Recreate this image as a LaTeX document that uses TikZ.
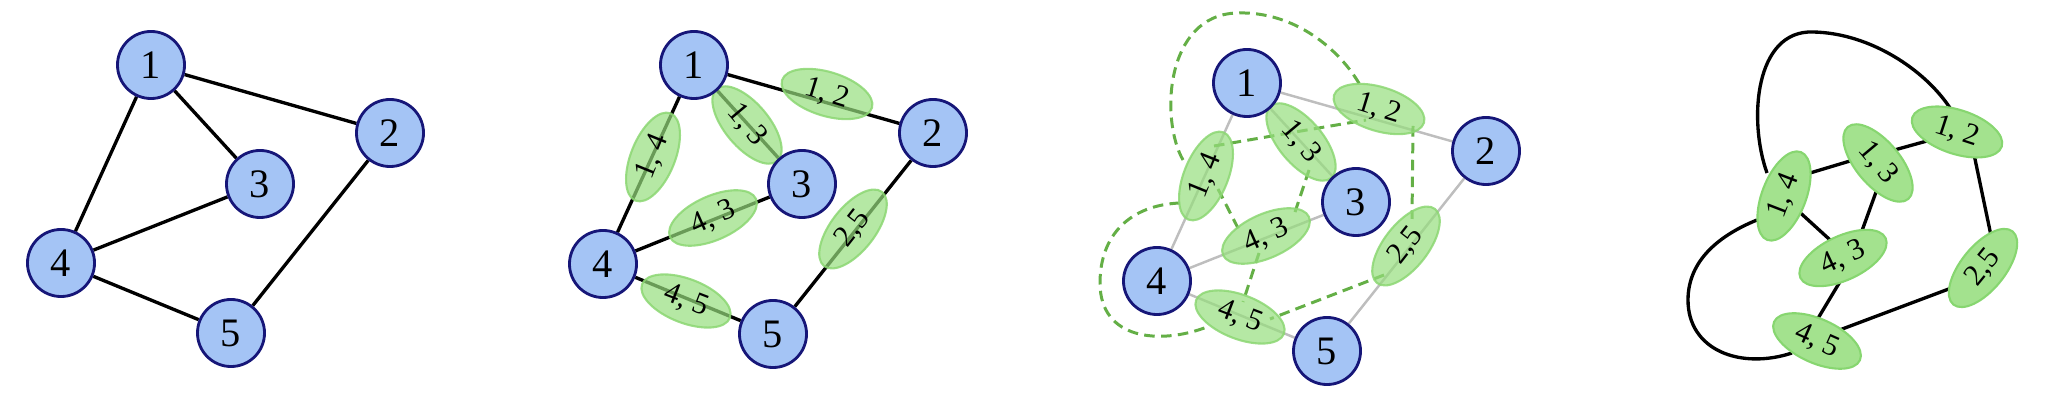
\documentclass[tikz,border=0pt]{standalone}
\usepackage{fontspec}
\setmainfont{Liberation Serif}
\usetikzlibrary{shapes.geometric}
\definecolor{nodeblue}{RGB}{164,196,245}
\definecolor{navy}{RGB}{22,22,120}
\definecolor{efill}{RGB}{150,222,125}
\definecolor{eborder}{RGB}{140,215,115}
\definecolor{efillsolid}{RGB}{163,226,142}
\definecolor{ebordersolid}{RGB}{135,214,112}
\definecolor{dgreen}{RGB}{100,175,70}
\definecolor{edgegray}{RGB}{190,190,190}
\pgfdeclarelayer{back}
\pgfdeclarelayer{mid}
\pgfsetlayers{back,mid,main}
\begin{document}
\begin{tikzpicture}[x=0.01cm,y=-0.01cm,
  vtx/.style={circle,draw=navy,fill=nodeblue,line width=0.8pt,minimum size=0.67cm,inner sep=0pt,font=\fontsize{11.5}{13}\selectfont},
  lg/.style={ellipse,line width=0.6pt,minimum width=0.94cm,minimum height=0.44cm,inner sep=0pt,font=\fontsize{8.6}{10}\selectfont},
  lgt/.style={lg,draw=eborder,fill=efill,fill opacity=0.7,draw opacity=0.85,text opacity=1},
  lgs/.style={lg,draw=ebordersolid,fill=efillsolid},
  edge/.style={line width=0.95pt,black},
  gedge/.style={line width=0.7pt,edgegray},
  dedge/.style={line width=0.85pt,dgreen,dash pattern=on 3pt off 1.8pt},
]
\useasboundingbox (0,0) rectangle (2048,401);

% ---------- Panel 1 ----------
\node[vtx] (a1) at (151,65) {1};
\node[vtx] (a2) at (390,133) {2};
\node[vtx] (a3) at (260,184) {3};
\node[vtx] (a4) at (61,263) {4};
\node[vtx] (a5) at (231,333) {5};
\begin{pgfonlayer}{back}
\draw[edge] (a1) -- (a2);
\draw[edge] (a1) -- (a3);
\draw[edge] (a1) -- (a4);
\draw[edge] (a4) -- (a3);
\draw[edge] (a2) -- (a5);
\draw[edge] (a4) -- (a5);
\end{pgfonlayer}

% ---------- Panel 2 ----------
\node[vtx] (b1) at (694,65) {1};
\node[vtx] (b2) at (933,133) {2};
\node[vtx] (b3) at (802,184) {3};
\node[vtx] (b4) at (603,264) {4};
\node[vtx] (b5) at (773,334) {5};
\begin{pgfonlayer}{mid}
\node[lgt,rotate=-17] (e12) at (827,94) {1, 2};
\node[lgt,rotate=-50] (e13) at (747,125) {1, 3};
\node[lgt,rotate=68] (e14) at (653,157) {1, 4};
\node[lgt,rotate=24] (e43) at (713,218) {4, 3};
\node[lgt,rotate=52] (e25) at (853,229) {2,5};
\node[lgt,rotate=-21] (e45) at (686,301) {4, 5};
\end{pgfonlayer}
\begin{pgfonlayer}{back}
\draw[edge] (b1) -- (b2);
\draw[edge] (b1) -- (b3);
\draw[edge] (b1) -- (b4);
\draw[edge] (b4) -- (b3);
\draw[edge] (b2) -- (b5);
\draw[edge] (b4) -- (b5);
\end{pgfonlayer}

% ---------- Panel 3 ----------
\node[vtx] (c1) at (1247,83) {1};
\node[vtx] (c2) at (1486,151) {2};
\node[vtx] (c3) at (1356,202) {3};
\node[vtx] (c4) at (1157,281) {4};
\node[vtx] (c5) at (1327,351) {5};
\begin{pgfonlayer}{mid}
\node[lgt,rotate=-17] (f12) at (1379,109) {1, 2};
\node[lgt,rotate=-50] (f13) at (1301,142) {1, 3};
\node[lgt,rotate=68] (f14) at (1206,176) {1, 4};
\node[lgt,rotate=24] (f43) at (1266,236) {4, 3};
\node[lgt,rotate=52] (f25) at (1406,246) {2,5};
\node[lgt,rotate=-21] (f45) at (1240,317) {4, 5};
\end{pgfonlayer}
\begin{pgfonlayer}{back}
\draw[gedge] (c1) -- (c2);
\draw[gedge] (c1) -- (c3);
\draw[gedge] (c1) -- (c4);
\draw[gedge] (c4) -- (c3);
\draw[gedge] (c2) -- (c5);
\draw[gedge] (c4) -- (c5);
\draw[dedge] ([shift={(8,-30)}]f14.center) -- ([shift={(0,-11)}]f13.center) -- ([shift={(-13,11)}]f12.center);
\draw[dedge] ([shift={(34,17)}]f12.center) -- ([shift={(6,-27)}]f25.center);
\draw[dedge] ([shift={(8,28)}]f13.center) -- ([shift={(28,-21)}]f43.center);
\draw[dedge] ([shift={(12,13)}]f14.center) -- ([shift={(-26,-4)}]f43.center);
\draw[dedge] ([shift={(-7,17)}]f43.center) -- ([shift={(3,-15)}]f45.center);
\draw[dedge] ([shift={(-22,29)}]f25.center) -- ([shift={(30,2)}]f45.center);
\draw[dedge] ([shift={(-23,-16)}]f14.center) .. controls (1160,120) and (1165,15) .. (1237,13)
   .. controls (1295,11) and (1340,50) .. ([shift={(-19,-24)}]f12.center);
\draw[dedge] ([shift={(-26,27)}]f14.center) .. controls (1130,205) and (1100,235) .. (1100,283)
   .. controls (1100,340) and (1160,345) .. ([shift={(-33,10)}]f45.center);
\end{pgfonlayer}

% ---------- Panel 4 ----------
\node[lgs,rotate=-18] (g12) at (1957,132) {1, 2};
\node[lgs,rotate=-50] (g13) at (1878,163) {1, 3};
\node[lgs,rotate=69] (g14) at (1784,196) {1, 4};
\node[lgs,rotate=25] (g43) at (1843,258) {4, 3};
\node[lgs,rotate=51] (g25) at (1983,268) {2,5};
\node[lgs,rotate=-24] (g45) at (1817,341) {4, 5};
\begin{pgfonlayer}{back}
\draw[edge] ([shift={(16,-20)}]g14.center) -- ([shift={(-8,-8)}]g13.center);
\draw[edge] ([shift={(2,-9)}]g13.center) -- ([shift={(-12,4)}]g12.center);
\draw[edge] ([shift={(14,8)}]g12.center) -- ([shift={(11,-18)}]g25.center);
\draw[edge] ([shift={(6,7)}]g13.center) -- ([shift={(12,-8)}]g43.center);
\draw[edge] ([shift={(11,12)}]g14.center) -- ([shift={(-3,-9)}]g43.center);
\draw[edge] ([shift={(4,12)}]g43.center) -- ([shift={(-3,-16)}]g45.center);
\draw[edge] ([shift={(-13,13)}]g25.center) -- ([shift={(12,-7)}]g45.center);
\draw[edge] ([shift={(-17,-23)}]g14.center) .. controls (1748,120) and (1755,30) .. (1813,32)
   .. controls (1870,33) and (1925,70) .. ([shift={(-7,-24)}]g12.center);
\draw[edge] ([shift={(-27,24)}]g14.center) .. controls (1720,235) and (1688,260) .. (1688,300)
   .. controls (1688,350) and (1740,370) .. ([shift={(-25,12)}]g45.center);
\end{pgfonlayer}
\end{tikzpicture}
\end{document}
